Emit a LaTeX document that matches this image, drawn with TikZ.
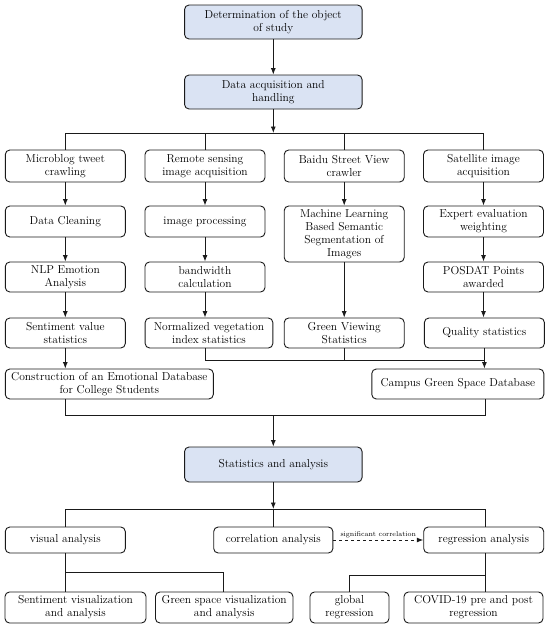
\documentclass[tikz,border=0pt]{standalone}
\usetikzlibrary{arrows.meta}
\definecolor{lb}{HTML}{DAE3F3}
\definecolor{ln}{HTML}{1A1A1A}
\begin{document}
\begin{tikzpicture}[x=1pt,y=-1pt,
  box/.style={draw=ln,line width=0.9pt,rounded corners=4.5pt,align=center,inner sep=1pt,
    font=\fontsize{11.5}{13}\selectfont},
  bluebox/.style={box,fill=lb},
  conn/.style={draw=ln,line width=0.9pt},
  arr/.style={conn,-{Latex[length=6.5pt,width=5pt]}},
  lbl/.style={font=\fontsize{7}{8}\selectfont,inner sep=1.5pt}]
\useasboundingbox (0,0) rectangle (550,630);
% top
\node[bluebox,minimum width=177.5pt,minimum height=34pt] (top) at (273.3,22) {Determination of the object\\of study};
\node[bluebox,minimum width=177.5pt,minimum height=34pt] (data) at (273.3,92) {Data acquisition and\\handling};
% row 1
\node[box,minimum width=120pt,minimum height=32pt] (a1) at (65.3,166) {Microblog tweet\\crawling};
\node[box,minimum width=120pt,minimum height=32pt] (b1) at (205,166) {Remote sensing\\image acquisition};
\node[box,minimum width=120pt,minimum height=32pt] (c1) at (344.2,166) {Baidu Street View\\crawler};
\node[box,minimum width=120pt,minimum height=32pt] (d1) at (483.5,166) {Satellite image\\acquisition};
% row 2
\node[box,minimum width=120pt,minimum height=31pt] (a2) at (65.3,221.5) {Data Cleaning};
\node[box,minimum width=120pt,minimum height=31pt] (b2) at (205,221.5) {image processing};
\node[box,minimum width=120pt,minimum height=56pt] (c2) at (344.2,234) {Machine Learning\\Based Semantic\\Segmentation of\\Images};
\node[box,minimum width=120pt,minimum height=31pt] (d2) at (483.5,221.5) {Expert evaluation\\weighting};
% row 3
\node[box,minimum width=120pt,minimum height=30pt] (a3) at (65.3,277) {NLP Emotion\\Analysis};
\node[box,minimum width=120pt,minimum height=30pt] (b3) at (205,277) {bandwidth\\calculation};
\node[box,minimum width=120pt,minimum height=30pt] (d3) at (483.5,277) {POSDAT Points\\awarded};
% row 4
\node[box,minimum width=120pt,minimum height=30pt] (a4) at (65.3,333) {Sentiment value\\statistics};
\node[box,minimum width=127.7pt,minimum height=30pt] (b4) at (209,333) {Normalized vegetation\\index statistics};
\node[box,minimum width=120pt,minimum height=30pt] (c4) at (344.2,333) {Green Viewing\\Statistics};
\node[box,minimum width=120pt,minimum height=30pt] (d4) at (484.4,333) {Quality statistics};
% row 5
\node[box,minimum width=208pt,minimum height=30pt] (emo) at (109.3,384) {Construction of an Emotional Database\\for College Students};
\node[box,minimum width=172pt,minimum height=30pt] (campus) at (457.8,384) {Campus Green Space Database};
% statistics
\node[bluebox,minimum width=177.5pt,minimum height=35pt] (stat) at (273.3,464.5) {Statistics and analysis};
% row 6
\node[box,minimum width=120pt,minimum height=26pt] (vis) at (65.3,540) {visual analysis};
\node[box,minimum width=119.2pt,minimum height=26pt] (corr) at (273.3,540) {correlation analysis};
\node[box,minimum width=120pt,minimum height=26pt] (reg) at (483.7,540) {regression analysis};
% row 7
\node[box,minimum width=141pt,minimum height=31pt] (sent) at (75.5,607.5) {Sentiment visualization\\and analysis};
\node[box,minimum width=137.5pt,minimum height=31pt] (gsv) at (224.2,607.5) {Green space visualization\\and analysis};
\node[box,minimum width=79pt,minimum height=31pt] (glob) at (349.5,607.5) {global\\regression};
\node[box,minimum width=139pt,minimum height=31pt] (covid) at (473.5,607.5) {COVID-19 pre and post\\regression};
% coordinates
\coordinate (bus1) at (273.3,133);
\coordinate (bus1l) at (65.3,133);
\coordinate (bus1r) at (483.5,133);
\coordinate (bus2) at (484.4,360);
\coordinate (bus3l) at (65.3,415);
\coordinate (bus3r) at (485.5,415);
\coordinate (bus3m) at (273.3,415);
\coordinate (bus4) at (273.3,509);
\coordinate (bus4l) at (65.3,509);
\coordinate (bus4r) at (485.5,509);
\coordinate (vj) at (65.3,572);
\coordinate (vr) at (223,572);
\coordinate (rj) at (485.5,575);
\coordinate (rl) at (349,575);
% connectors top
\draw[arr] (top) -- (data);
\draw[arr] (data.south) -- (bus1);
\draw[conn] (bus1l) -- (bus1r);
\draw[conn] (bus1l) -- (a1.north);
\draw[conn] (bus1 -| b1) -- (b1.north);
\draw[conn] (bus1 -| c1) -- (c1.north);
\draw[conn] (bus1r) -- (d1.north);
% columns
\draw[arr] (a1) -- (a2);
\draw[arr] (a2) -- (a3);
\draw[arr] (a3) -- (a4);
\draw[arr] (b1) -- (b2);
\draw[arr] (b2) -- (b3);
\draw[arr] (b3.south) -- (b3.south |- b4.north);
\draw[arr] (c1) -- (c2);
\draw[arr] (c2) -- (c4);
\draw[arr] (d1) -- (d2);
\draw[arr] (d2) -- (d3);
\draw[arr] (d3.south) -- (d3.south |- d4.north);
% to databases
\draw[arr] (a4.south) -- (a4.south |- emo.north);
\draw[conn] (b3.south |- b4.south) |- (bus2);
\draw[conn] (c4.south) -- (c4.south |- bus2);
\draw[arr] (d4.south) -- (d4.south |- campus.north);
% to statistics
\draw[conn] (emo.south -| bus3l) -- (bus3l) -- (bus3r) -- (bus3r |- campus.south);
\draw[arr] (bus3m) -- (stat.north);
\draw[arr] (stat.south) -- (bus4);
\draw[conn] (bus4l) -- (bus4r);
\draw[conn] (bus4l) -- (vis.north);
\draw[conn] (bus4 -| corr) -- (corr.north);
\draw[conn] (bus4r) -- (bus4r |- reg.north);
% analysis
\draw[arr,dashed] (corr.east) -- node[lbl,above] {significant correlation} (reg.west);
\draw[conn] (vis.south) -- (vis.south |- sent.north);
\draw[conn] (vj) -| (gsv.north -| vr);
\draw[conn] (rj |- reg.south) -- (rj |- covid.north);
\draw[conn] (rj) -| (glob.north -| rl);
\end{tikzpicture}
\end{document}
